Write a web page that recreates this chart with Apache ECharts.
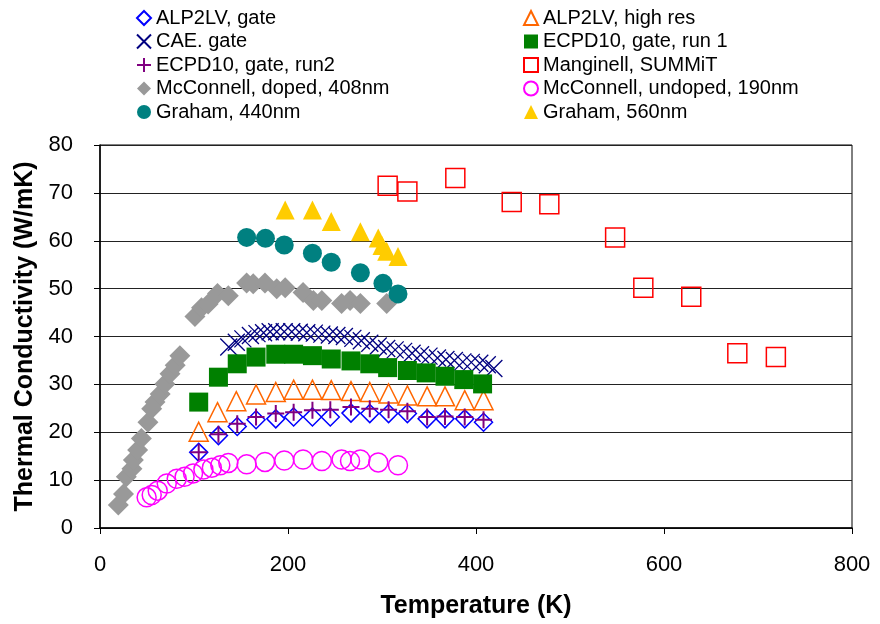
<!DOCTYPE html>
<html>
<head>
<meta charset="utf-8">
<script src="https://cdn.jsdelivr.net/npm/echarts@6/dist/echarts.min.js"></script>
<style>
  html, body { margin: 0; padding: 0; background: #fff; }
  #chart { width: 880px; height: 624px; }
</style>
</head>
<body>
<div id="chart"></div>
<script>
// ALP2LV, gate
const alpGateT = [105, 126, 146, 166, 187, 206, 226, 245, 267, 287, 307, 327, 348, 367, 388, 408];
const alpGateK = [15.8, 19.3, 21.2, 22.6, 22.8, 23.2, 23.2, 23.2, 24, 23.9, 23.9, 23.9, 22.8, 22.8, 22.8, 22.1];
// ALP2LV, high res
const alpHighT = [105, 125, 145, 166, 187, 206, 226, 246, 267, 287, 307, 327, 348, 367, 388, 408];
const alpHighK = [20.1, 24.2, 26.5, 27.9, 28.4, 28.9, 28.9, 28.8, 28.6, 28.4, 28.1, 27.7, 27.5, 27.5, 26.7, 26.7];
// CAE. gate
const caeT = [137, 145, 152, 160, 167, 174, 181, 188, 196, 204, 212, 220, 228, 236, 244, 252, 260, 269, 278, 287,
  296, 305, 314, 323, 332, 341, 350, 359, 368, 377, 386, 395, 404, 412, 419];
const caeK = [37.8, 38.8, 39.5, 40.2, 40.6, 40.8, 41, 41, 41, 41, 40.9, 40.8, 40.7, 40.5, 40.3, 40.2, 40, 39.6, 39.1, 38.6,
  38, 37.5, 37.2, 36.9, 36.5, 36.2, 35.9, 35.5, 35.2, 35, 34.7, 34.6, 34.4, 34.1, 33.3];
// ECPD10, gate, run 1
const run1T = [105, 126, 146, 166, 187, 206, 226, 246, 267, 287, 306, 327, 347, 367, 387, 407];
const run1K = [26.3, 31.5, 34.3, 35.7, 36.3, 36.3, 36, 35.3, 34.9, 34.3, 33.5, 32.9, 32.4, 31.7, 31, 30.1];
// ECPD10, gate, run2
const run2T = [105, 126, 146, 166, 187, 206, 226, 245, 267, 287, 307, 327, 348, 367, 388, 408];
const run2K = [15.8, 19.6, 21.8, 23.2, 23.9, 24.2, 24.6, 24.7, 25.3, 24.9, 24.7, 24.4, 23.2, 23.3, 23.2, 22.6];
// Manginell, SUMMiT
const mangT = [306, 327, 378, 438, 478, 548, 578, 629, 678, 719];
const mangK = [71.5, 70.3, 73.1, 68.1, 67.6, 60.7, 50.2, 48.3, 36.5, 35.7];
// McConnell, doped, 408nm
const dopedT = [19.5, 25, 28, 34, 35.5, 40, 44, 51, 55, 58.5, 64, 69, 74.5, 80, 85, 101, 108, 115, 125, 136.5,
  156, 163, 175.5, 188, 197, 216, 227, 236, 257, 266, 277, 305];
const dopedK = [4.8, 7.1, 10.7, 12.4, 14.2, 16.3, 18.7, 22.1, 24.9, 26.3, 28, 30.1, 32.2, 34, 36, 44.2, 46, 46.8, 49, 48.5,
  51.2, 51, 51.2, 50, 50.2, 49.2, 47.5, 47.5, 46.9, 47.5, 46.9, 46.9];
// McConnell, undoped, 190nm
const undopedT = [49.6, 55, 61.4, 71, 81.6, 90, 99, 110, 119, 128, 136.5, 156, 175.5, 196, 216, 236, 257, 266, 277, 296, 317];
const undopedK = [6.4, 6.9, 7.8, 9.3, 10.3, 10.7, 11.4, 12.2, 12.6, 13.1, 13.6, 13.3, 13.8, 14.1, 14.3, 14, 14.3, 14, 14.3, 13.7, 13.1];
// Graham, 440nm
const g440T = [156, 176, 196, 226, 246, 277, 301, 317];
const g440K = [60.7, 60.5, 59.1, 57.4, 55.5, 53.3, 51.1, 48.9];
// Graham, 560nm
const g560T = [197, 226, 246, 277, 296, 300, 305, 317];
const g560K = [66.4, 66.4, 64, 61.9, 60.6, 59, 57.8, 56.7];

const xTicks = [0, 200, 400, 600, 800];
const yTicks = [0, 10, 20, 30, 40, 50, 60, 70, 80];

const FONT = 'Liberation Sans, Arial, sans-serif';
const pts = (xs, ys) => xs.map((x, i) => [x, ys[i]]);

const crossPath = 'path://M0,0L10,10M10,0L0,10';
const plusPath = 'path://M5,0L5,10M0,5L10,5';

function hollow(name, xs, ys, symbol, color, size) {
  return {
    name, type: 'scatter', data: pts(xs, ys), symbol, symbolSize: size,
    itemStyle: { color: 'rgba(0,0,0,0)', borderColor: color, borderWidth: 1.5, opacity: 1 }
  };
}
function filled(name, xs, ys, symbol, color, size) {
  return {
    name, type: 'scatter', data: pts(xs, ys), symbol, symbolSize: size,
    itemStyle: { color, opacity: 1 }
  };
}
function stroke(name, xs, ys, symbol, color, size, w) {
  return {
    name, type: 'scatter', data: pts(xs, ys), symbol, symbolSize: size,
    itemStyle: { color: 'rgba(0,0,0,0)', borderColor: color, borderWidth: w, opacity: 1 }
  };
}

const series = [
  hollow('ALP2LV, gate', alpGateT, alpGateK, 'diamond', '#0000FF', 18),
  hollow('ALP2LV, high res', alpHighT, alpHighK, 'triangle', '#FF6600', 19),
  stroke('CAE. gate', caeT, caeK, crossPath, '#000080', 17, 1.3),
  filled('ECPD10, gate, run 1', run1T, run1K, 'rect', '#008000', 19),
  stroke('ECPD10, gate, run2', run2T, run2K, plusPath, '#800080', 17, 2),
  hollow('Manginell, SUMMiT', mangT, mangK, 'rect', '#FF0000', 19),
  filled('McConnell, doped, 408nm', dopedT, dopedK, 'diamond', '#999999', 21),
  hollow('McConnell, undoped, 190nm', undopedT, undopedK, 'circle', '#FF00FF', 19),
  filled('Graham, 440nm', g440T, g440K, 'circle', '#008080', 19),
  filled('Graham, 560nm', g560T, g560K, 'triangle', '#FFCC00', 19)
];

const legendText = { fontFamily: FONT, fontSize: 20, color: '#000', lineHeight: 18 };

const myChart = echarts.init(document.getElementById('chart'), null, { renderer: 'canvas' });
const option = {
  animation: false,
  backgroundColor: '#fff',
  textStyle: { fontFamily: FONT },
  legend: [
    {
      orient: 'vertical', left: 131, top: 3, padding: 5, itemWidth: 14, itemHeight: 14, itemGap: 3.5,
      textStyle: legendText,
      data: ['ALP2LV, gate', 'CAE. gate', 'ECPD10, gate, run2', 'McConnell, doped, 408nm', 'Graham, 440nm']
    },
    {
      orient: 'vertical', left: 518, top: 3, padding: 5, itemWidth: 14, itemHeight: 14, itemGap: 3.5,
      textStyle: legendText,
      data: ['ALP2LV, high res', 'ECPD10, gate, run 1', 'Manginell, SUMMiT', 'McConnell, undoped, 190nm', 'Graham, 560nm']
    }
  ],
  grid: {
    left: 100, right: 28, top: 145, bottom: 96,
    show: true, borderColor: '#000', borderWidth: 1
  },
  xAxis: {
    type: 'value', min: 0, max: 800, interval: 200,
    name: 'Temperature (K)', nameLocation: 'middle', nameGap: 66,
    nameTextStyle: { fontFamily: FONT, fontSize: 25, fontWeight: 'bold', color: '#000' },
    axisLine: { show: true, lineStyle: { color: '#000', width: 1.5 } },
    axisTick: { show: true, inside: false, length: 6, lineStyle: { color: '#000' } },
    axisLabel: {
      margin: 26, fontSize: 22, color: '#000', fontFamily: FONT,
      formatter: v => (xTicks.includes(v) ? String(v) : '')
    },
    splitLine: { show: false }
  },
  yAxis: {
    type: 'value', min: 0, max: 80, interval: 10,
    name: 'Thermal Conductivity (W/mK)', nameLocation: 'middle', nameGap: 58,
    nameTextStyle: { fontFamily: FONT, fontSize: 25, fontWeight: 'bold', color: '#000' },
    axisLine: { show: true, lineStyle: { color: '#000', width: 1.5 } },
    axisTick: { show: true, inside: false, length: 6, lineStyle: { color: '#000' } },
    axisLabel: {
      margin: 27, fontSize: 22, color: '#000', fontFamily: FONT,
      formatter: v => (yTicks.includes(v) ? String(v) : '')
    },
    splitLine: { show: true, lineStyle: { color: '#222', width: 1 } }
  },
  series
};
option && myChart.setOption(option);
</script>
</body>
</html>
